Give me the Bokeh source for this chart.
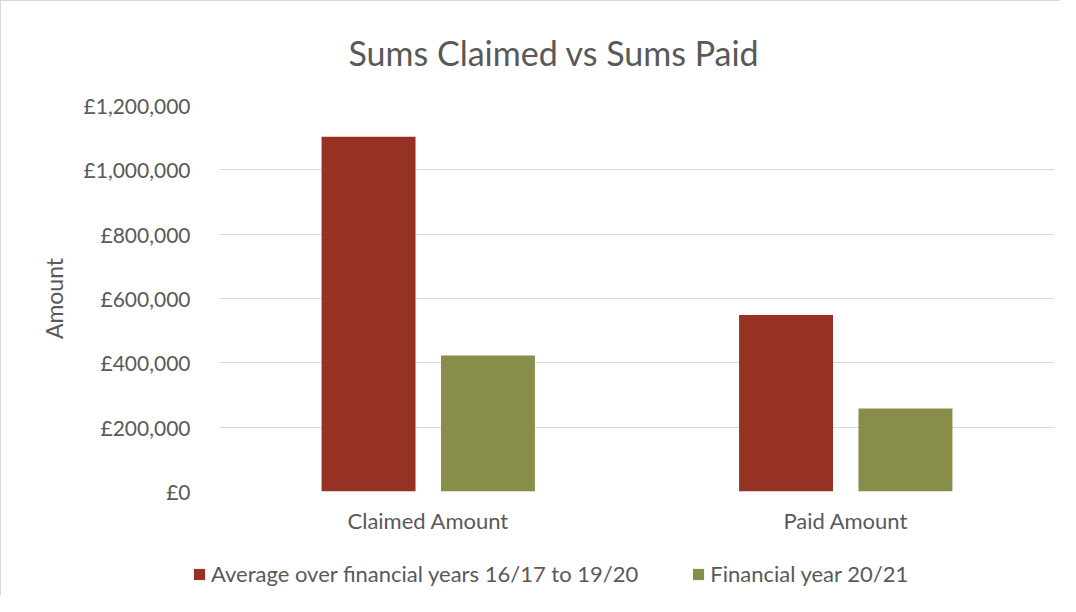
from bokeh.plotting import figure
from bokeh.models import Range1d, FactorRange, FixedTicker, Legend, LegendItem, Title, ColumnDataSource
from bokeh.layouts import column
from bokeh.transform import dodge
from bokeh.embed import file_html
from bokeh.resources import INLINE

categories = ["Claimed Amount", "Paid Amount"]
series_names = ["Average over financial years 16/17 to 19/20", "Financial year 20/21"]
avg_values = [1103000, 549000]
fy2021_values = [423000, 258000]
tick_values = [0, 200000, 400000, 600000, 800000, 1000000, 1200000]
tick_labels = ["£0", "£200,000", "£400,000", "£600,000", "£800,000", "£1,000,000", "£1,200,000"]

FONT = "Lato"
GREY = "#595959"
RED = "#963223"
GREEN = "#898D4A"

src = ColumnDataSource(dict(cat=categories, avg=avg_values, fy=fy2021_values))

p = figure(width=1060, height=542, output_backend="svg", toolbar_location=None,
           x_range=FactorRange(*categories, range_padding=0),
           y_range=Range1d(0, 1200000),
           min_border_left=218, min_border_right=7, min_border_top=104, min_border_bottom=52)
p.styles = {"border-left": "1px solid #d9d9d9", "border-top": "1px solid #d9d9d9"}
p.outline_line_color = None

r1 = p.vbar(x=dodge("cat", -0.143, range=p.x_range), top="avg", width=0.225, source=src,
            fill_color=RED, line_color=None)
r2 = p.vbar(x=dodge("cat", 0.143, range=p.x_range), top="fy", width=0.225, source=src,
            fill_color=GREEN, line_color=None)

t = Title(text="Sums Claimed vs Sums Paid", align="left", vertical_align="top", offset=129,
          text_font=FONT, text_font_size="34px", text_font_style="normal",
          text_color=GREY, standoff=61)
p.add_layout(t, "above")

p.yaxis.ticker = FixedTicker(ticks=tick_values)
p.yaxis.major_label_overrides = {v: l for v, l in zip(tick_values, tick_labels)}
p.yaxis.axis_line_color = None
p.yaxis.major_tick_line_color = None
p.yaxis.minor_tick_line_color = None
p.yaxis.major_tick_out = 0
p.yaxis.major_label_standoff = 29
p.yaxis.major_label_text_font = FONT
p.yaxis.major_label_text_font_size = "21px"
p.yaxis.major_label_text_color = GREY
p.yaxis.axis_label = "Amount"
p.yaxis.axis_label_text_font = FONT
p.yaxis.axis_label_text_font_size = "23px"
p.yaxis.axis_label_text_font_style = "normal"
p.yaxis.axis_label_text_color = GREY
p.yaxis.axis_label_standoff = 13

p.xaxis.axis_line_color = None
p.xaxis.major_tick_line_color = None
p.xaxis.major_tick_out = 0
p.xaxis.major_label_standoff = 15
p.xaxis.major_label_text_font = FONT
p.xaxis.major_label_text_font_size = "22px"
p.xaxis.major_label_text_color = GREY

p.xgrid.grid_line_color = None
p.ygrid.grid_line_color = "#d9d9d9"
p.ygrid.grid_line_width = 1

# legend strip below the chart; its renderers reuse the same data but are hidden
p2 = figure(width=1060, height=53, output_backend="svg", toolbar_location=None,
            x_range=FactorRange(*categories, range_padding=0), y_range=Range1d(0, 1),
            x_axis_location=None, y_axis_location=None,
            min_border_left=0, min_border_right=0, min_border_top=0, min_border_bottom=0)
p2.styles = {"border-left": "1px solid #d9d9d9"}
p2.outline_line_color = None
p2.xgrid.visible = False
p2.ygrid.visible = False
l1 = p2.vbar(x=dodge("cat", -0.143, range=p2.x_range), top="avg", width=0.225, source=src,
             fill_color=RED, line_color=None, visible=False)
l2 = p2.vbar(x=dodge("cat", 0.143, range=p2.x_range), top="fy", width=0.225, source=src,
             fill_color=GREEN, line_color=None, visible=False)

legend_x = -26
if "frame_align" in type(p2).properties():
    p.frame_align = False
    p2.frame_align = False
    legend_x = 191

legend = Legend(items=[LegendItem(label=series_names[0], renderers=[l1]),
                       LegendItem(label=series_names[1], renderers=[l2])],
                orientation="horizontal", location=(legend_x, 8),
                glyph_width=14, glyph_height=14, label_standoff=5, spacing=53,
                padding=0, margin=0, border_line_color=None, background_fill_alpha=0,
                inactive_fill_alpha=0,
                label_text_font=FONT, label_text_font_size="22px", label_text_color=GREY)
p2.add_layout(legend, "center")

layout = column(p, p2, spacing=0)
open("out.html", "w").write(file_html(layout, INLINE))
